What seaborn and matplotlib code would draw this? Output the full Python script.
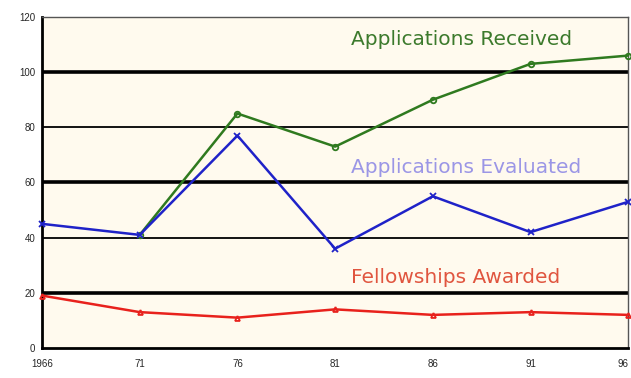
import numpy as np
import pandas as pd
import matplotlib
matplotlib.use("Agg")
import matplotlib.pyplot as plt
import seaborn as sns

years = [1966, 1971, 1976, 1981, 1986, 1991, 1996]
year_labels = ["1966", "71", "76", "81", "86", "91", "96"]
received = [np.nan, 41, 85, 73, 90, 103, 106]
evaluated = [45, 41, 77, 36, 55, 42, 53]
awarded = [19, 13, 11, 14, 12, 13, 12]
y_ticks = [0, 20, 40, 60, 80, 100, 120]

sns.set_style("white")
plt.rcParams['font.family'] = ['Liberation Sans', 'DejaVu Sans']

fig = plt.figure(figsize=(6.31, 3.78), dpi=100)
ax = fig.add_axes([0.0666, 0.0794, 0.9290, 0.8757])
ax.set_facecolor("#fffaee")

# horizontal grid: thick at 20/60/100, thin at 40/80
for v in y_ticks[1:-1]:
    lw = 2.6 if v in (20, 60, 100) else 1.3
    ax.axhline(v, color="black", lw=lw, zorder=1)

series = [
    ("Received", received, "#2f7a1f", "o", 4, "none"),
    ("Evaluated", evaluated, "#1f22c8", "x", 5, None),
    ("Awarded", awarded, "#e8211c", "^", 3.5, "none"),
]
for name, vals, col, mk, ms, mfc in series:
    df = pd.DataFrame({"year": years, "value": vals}).dropna()
    sns.lineplot(data=df, x="year", y="value", ax=ax, color=col, lw=1.8,
                 marker=mk, markersize=ms, markeredgecolor=col,
                 markerfacecolor=(mfc if mfc else col), markeredgewidth=1.3,
                 zorder=3, clip_on=False)

ax.set_xlim(1966, 1996)
ax.set_ylim(0, 120)
ax.set_xticks(years)
ax.set_xticklabels(year_labels)
ax.set_yticks(y_ticks)
ax.set_xlabel("")
ax.set_ylabel("")
ax.tick_params(axis="both", labelsize=7, length=4, width=1.5, color="black",
               direction="inout", pad=3)
ax.tick_params(axis="x", pad=6)
# keep the last year label inside the figure
ax.get_xticklabels()[-1].set_horizontalalignment("right")

for side in ("left", "bottom"):
    ax.spines[side].set_color("black")
    ax.spines[side].set_linewidth(2)
for side in ("top", "right"):
    ax.spines[side].set_color("#555555")
    ax.spines[side].set_linewidth(1)

label_font = ["DejaVu Sans"]
ax.text(1981.8, 111.7, "Applications Received", color="#3c7a2c", fontsize=14.5,
        ha="left", va="center", family=label_font)
ax.text(1981.8, 65.6, "Applications Evaluated", color="#9b96e6", fontsize=14.5,
        ha="left", va="center", family=label_font)
ax.text(1981.8, 25.7, "Fellowships Awarded", color="#e0553f", fontsize=14.5,
        ha="left", va="center", family=label_font)

fig.savefig("out.png", dpi=100, facecolor="white")
